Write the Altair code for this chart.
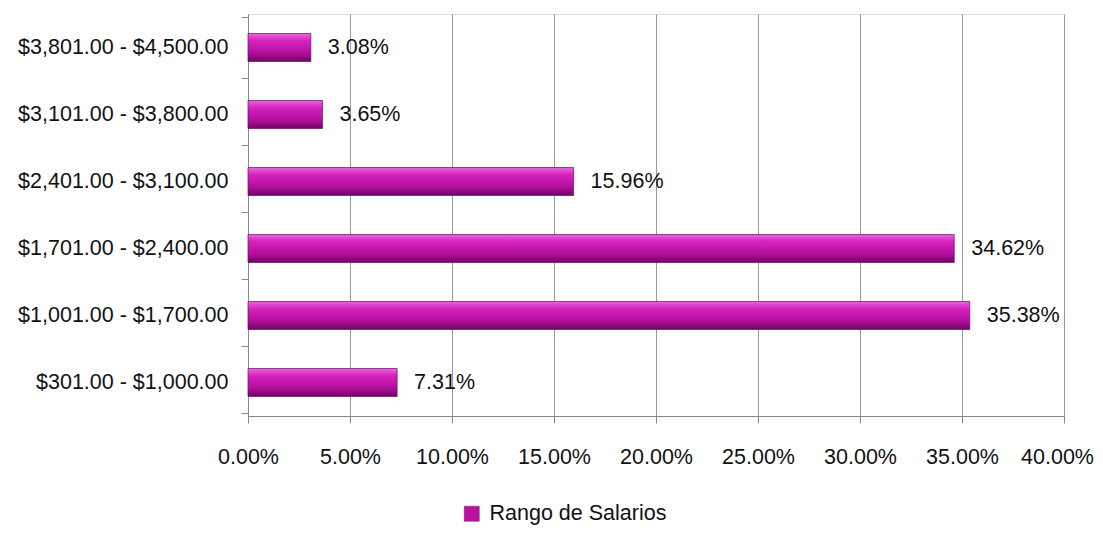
import altair as alt
import pandas as pd

categories = ["$3,801.00 - $4,500.00", "$3,101.00 - $3,800.00", "$2,401.00 - $3,100.00",
              "$1,701.00 - $2,400.00", "$1,001.00 - $1,700.00", "$301.00 - $1,000.00"]
values = [0.0308, 0.0365, 0.1596, 0.3462, 0.3538, 0.0731]
labels = ["3.08%", "3.65%", "15.96%", "34.62%", "35.38%", "7.31%"]
series = "Rango de Salarios"
x_ticks = [0, 0.05, 0.10, 0.15, 0.20, 0.25, 0.30, 0.35, 0.40]

df = pd.DataFrame({"cat": categories, "val": values, "lab": labels, "serie": series})

FONT = "Liberation Sans"
FS = 21.5

grad = alt.Gradient(
    gradient="linear", x1=0, y1=0, x2=0, y2=1,
    stops=[
        alt.GradientStop(offset=0, color="#e868dc"),
        alt.GradientStop(offset=0.25, color="#d624bf"),
        alt.GradientStop(offset=0.7, color="#b20e9c"),
        alt.GradientStop(offset=1, color="#6e0562"),
    ],
)

y = alt.Y("cat:N", sort=categories, title=None,
          axis=alt.Axis(tickBand="extent", grid=False, tickSize=7, labelPadding=13,
                        labelFont=FONT, labelFontSize=FS, labelColor="#111",
                        domainColor="#888", tickColor="#888", labelLimit=400))
x = alt.X("val:Q", title=None,
          scale=alt.Scale(domain=[0, 0.40], nice=False),
          axis=alt.Axis(values=x_ticks, format=".2%", tickSize=7, labelPadding=23,
                        labelOverlap=False, labelFlush=False, labelBound=False,
                        labelOffset={"condition": {"test": "datum.value >= 0.399", "value": -7},
                                     "value": 0},
                        labelFont=FONT, labelFontSize=FS, labelColor="#111",
                        domainColor="#888", tickColor="#888",
                        gridColor="#999", gridWidth=1, gridOpacity=1))

bars = alt.Chart(df).mark_bar(size=28, fill=grad, stroke="#6a0a5e", strokeWidth=0.7).encode(
    x=x, y=y,
    color=alt.Color("serie:N", scale=alt.Scale(range=["#b8139f"]),
                    legend=alt.Legend(title=None, orient="none", legendX=213, legendY=489,
                                      padding=0, symbolType="square", symbolSize=225,
                                      symbolStrokeColor="#7a0a6a", symbolStrokeWidth=0.5,
                                      labelOffset=7, labelLimit=400,
                                      labelFont=FONT, labelFontSize=FS, labelColor="#111")),
)

text = alt.Chart(df).mark_text(align="left", dx=17, font=FONT, fontSize=FS, color="#111").encode(
    x="val:Q", y=alt.Y("cat:N", sort=categories), text="lab:N")

chart = alt.layer(bars, text).properties(
    width=816, height=402,
    autosize=alt.AutoSizeParams(type="none"),
    padding={"left": 240, "top": 6, "right": 31, "bottom": 113},
).configure_view(stroke=None).configure(background="white")

chart.save("out.html", embed_options={"renderer": "svg", "actions": False})
